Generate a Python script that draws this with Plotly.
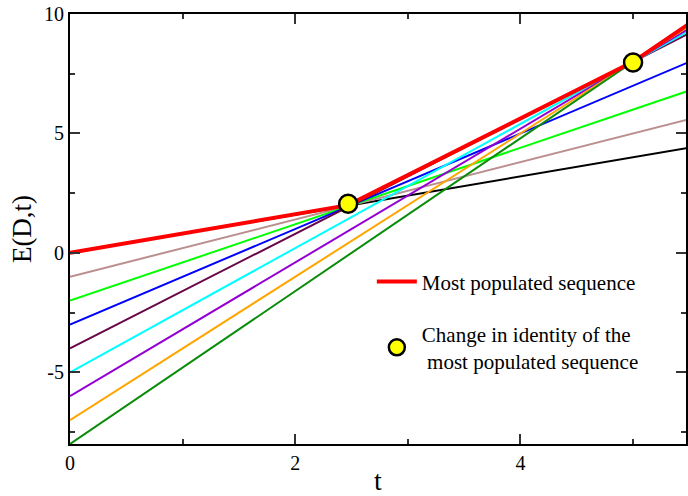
import plotly.graph_objects as go

# Data
t_ends = [0.0, 5.5]
line_colors = ["#000000", "#bc8f8f", "#00ff00", "#0000ff", "#670748",
               "#00ffff", "#9400d3", "#ffa500", "#0a8c0a"]
e_at_start = [0, -1, -2, -3, -4, -5, -6, -7, -8]
e_at_end = [4.4, 5.6, 6.8, 8.0, 9.2, 9.3, 9.4, 9.5, 9.6]

red_t = [0.0, 2.47, 5.0, 5.5]
red_e = [0.0, 2.0, 8.0, 9.6]

dots_t = [2.47, 5.0]
dots_e = [2.06, 7.97]

x_tickvals = [0, 2, 4]
x_ticktext = ["0", "2", "4"]
y_tickvals = [-5, 0, 5, 10]
y_ticktext = ["-5", "0", "5", "10"]

FONT = "Liberation Serif"

fig = go.Figure()
for c, e0, e1 in zip(line_colors, e_at_start, e_at_end):
    fig.add_trace(go.Scatter(x=t_ends, y=[e0, e1], mode="lines",
                             line=dict(color=c, width=2), showlegend=False,
                             hoverinfo="skip"))

fig.add_trace(go.Scatter(x=red_t, y=red_e, mode="lines",
                         line=dict(color="#ff0000", width=4),
                         name="Most populated sequence", legendgroup="a"))
fig.add_trace(go.Scatter(x=dots_t, y=dots_e, mode="markers",
                         marker=dict(color="#ffff00", size=18,
                                     line=dict(color="black", width=2.5)),
                         name="Change in identity of the<br>&nbsp;most populated sequence",
                         legendgroup="b"))

axis_common = dict(showline=True, linecolor="black", linewidth=2,
                   mirror="ticks", ticks="inside", ticklen=10, tickwidth=1.5,
                   tickcolor="#333333", showgrid=False, zeroline=False,
                   tickfont=dict(family=FONT, size=20, color="black"))

fig.update_xaxes(range=[0, 5.47], tickvals=x_tickvals, ticktext=x_ticktext,
                 minor=dict(ticks="inside", ticklen=5, dtick=1, tick0=0,
                            tickcolor="#333333", tickwidth=1.5),
                 title=dict(text="t", font=dict(family=FONT, size=28, color="black"),
                            standoff=2),
                 **axis_common)
fig.update_yaxes(range=[-8, 10], tickvals=y_tickvals, ticktext=y_ticktext,
                 minor=dict(ticks="inside", ticklen=5, dtick=2.5, tick0=0,
                            tickcolor="#333333", tickwidth=1.5),
                 title=dict(text="E(D,t)", font=dict(family=FONT, size=27, color="black"),
                            standoff=5),
                 **axis_common)

fig.update_layout(
    width=688, height=496,
    margin=dict(l=70, r=0, t=14, b=50),
    paper_bgcolor="white", plot_bgcolor="white",
    showlegend=True,
    legend=dict(x=0.49, y=0.425, xanchor="left", yanchor="top",
                bgcolor="rgba(0,0,0,0)", borderwidth=0,
                traceorder="grouped", tracegroupgap=22, itemwidth=40,
                font=dict(family=FONT, size=21, color="black")),
)

fig.write_html("out.html")
